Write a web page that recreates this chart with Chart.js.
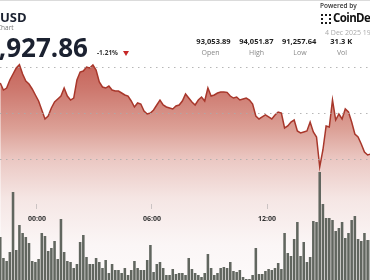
<!DOCTYPE html>
<html>
<head>
<meta charset="utf-8">
<script src="https://cdn.jsdelivr.net/npm/chart.js@4.4.1/dist/chart.umd.min.js"></script>
<style>
  html, body { margin: 0; padding: 0; background: #fff; }
  #wrap { position: relative; width: 370px; height: 280px; overflow: hidden; font-family: "Open Sans", sans-serif; }
  #wrap canvas { position: absolute; left: 0; top: 0; }
  .t { position: absolute; white-space: nowrap; line-height: 1; }
  .c { transform: translateX(-50%); }
  .val { top: 37.6px; font-size: 7.5px; font-weight: 700; color: #222; }
  .lbl { top: 49.3px; font-size: 7px; color: #888; }
</style>
</head>
<body>
<div id="wrap">
  <canvas id="btcChart" width="370" height="280"></canvas>

  <div class="t" style="left:0;top:10.5px;font-size:13px;font-weight:700;color:#1b2130">USD</div>
  <div class="t" style="left:-3px;top:25px;font-size:6.5px;color:#777">Chart</div>
  <div class="t" style="right:282px;top:33.6px;font-size:26px;font-weight:700;color:#1b2130">91,927.86</div>
  <div class="t" style="left:97px;top:50.2px;font-size:6.5px;font-weight:700;color:#333">-1.21%</div>
  <div style="position:absolute;left:122.5px;top:51px;width:0;height:0;border-left:3px solid transparent;border-right:3px solid transparent;border-top:5px solid #c62828"></div>

  <div class="t" style="left:320px;top:2.7px;font-size:6.5px;font-weight:600;color:#333">Powered by</div>
  <div style="position:absolute;left:321px;top:14px;width:6px;height:6px;border:2px dotted #1b1b1b"></div>
  <div class="t" style="left:333px;top:12px;font-size:11.5px;font-weight:700;color:#111;letter-spacing:-0.6px">CoinDesk</div>
  <div class="t" style="left:325px;top:28.8px;font-size:7px;color:#aaa">4 Dec 2025 19:25 UTC</div>

  <div class="t c val" style="left:213.5px">93,053.89</div>
  <div class="t c val" style="left:256.3px">94,051.87</div>
  <div class="t c val" style="left:299.2px">91,257.64</div>
  <div class="t c val" style="left:341.3px">31.3 K</div>
  <div class="t c lbl" style="left:210.5px">Open</div>
  <div class="t c lbl" style="left:256.5px">High</div>
  <div class="t c lbl" style="left:300px">Low</div>
  <div class="t c lbl" style="left:342px">Vol</div>
</div>

<script>
// 10 minute candles, minutes counted from 00:00
const START_MINUTE = -115;
const STEP_MINUTES = 10;

const prices = [
  93656, 93505, 93548, 93720, 93849, 93978, 94050, 93849, 93699, 93634,
  93527, 93398, 93269, 93075, 92882, 92946, 93118, 93247, 93312, 93376,
  93548, 93376, 93290, 93333, 93720, 93892, 93914, 94000, 93978, 94043,
  93935, 93677, 93570, 93548, 93591, 93505, 93484, 93484, 93441, 93398,
  93376, 93269, 93140, 93226, 93204, 93054, 92989, 93011, 93075, 93183,
  93290, 93183, 93140, 93118, 93097, 93161, 93183, 93269, 93419, 93333,
  93247, 93183, 93290, 93355, 93269, 93548, 93376, 93398, 93441, 93462,
  93462, 93455, 93376, 93333, 93355, 93290, 93312, 93333, 93290, 93204,
  92946, 92882, 92925, 92968, 92925, 92882, 92968, 93032, 93011, 92688,
  92731, 92817, 92860, 92624, 92581, 92602, 92624, 92817, 92602, 92495,
  91850, 92215, 92731, 92710, 93290, 92860, 92989, 92882, 93097, 93032,
  92817, 92559, 92495, 92344, 92172, 92108, 92129
];

const volumes = [
  215, 110, 95, 140, 440, 150, 275, 235, 215, 185,
  95, 90, 105, 235, 220, 145, 160, 195, 105, 305,
  140, 95, 90, 60, 80, 190, 225, 115, 80, 80,
  110, 90, 60, 100, 35, 80, 50, 50, 35, 60,
  25, 50, 95, 60, 50, 50, 100, 175, 40, 80,
  90, 60, 25, 25, 55, 30, 35, 35, 25,
  110, 55, 35, 25, 15, 35, 130, 60, 25, 35,
  60, 65, 60, 90, 45, 40, 50, 15, 5, 5,
  25, 160, 30, 30, 45, 55, 50, 60, 85, 55,
  235, 135, 120, 205, 290, 120, 190, 90, 115, 295,
  290, 540, 380, 310, 310, 300, 245, 260, 290, 210,
  235, 300, 320, 205, 195, 235, 200, 200
];

const tickMinutes = [0, 360, 720];
const tickLabels = ["00:00", "06:00", "12:00"];
const gridPrices = [92000, 93000, 94000];

const minutes = prices.map((p, i) => START_MINUTE + i * STEP_MINUTES);

function fillGradient(ctx) {
  const g = ctx.chart.ctx.createLinearGradient(0, 0, 0, 280);
  g.addColorStop(0.23, "rgb(198,100,90)");
  g.addColorStop(0.32, "rgb(205,120,110)");
  g.addColorStop(0.46, "rgb(220,160,150)");
  g.addColorStop(0.57, "rgb(235,200,195)");
  g.addColorStop(0.71, "rgb(245,230,228)");
  g.addColorStop(0.875, "rgb(251,246,246)");
  g.addColorStop(1, "rgb(253,250,250)");
  return g;
}

const dots = "rgba(170,170,170,0.85)";

new Chart(document.getElementById("btcChart"), {
  type: "line",
  data: {
    datasets: [
      {
        type: "bar",
        data: minutes.map((m, i) => ({ x: m, y: volumes[i] })),
        yAxisID: "vol",
        backgroundColor: "#61665f",
        borderWidth: 0,
        barPercentage: 0.8,
        categoryPercentage: 1
      },
      {
        type: "line",
        data: minutes.map((m, i) => ({ x: m, y: prices[i] })),
        yAxisID: "y",
        borderColor: "#a8372b",
        borderWidth: 1.5,
        pointRadius: 0,
        tension: 0,
        fill: "start",
        backgroundColor: fillGradient
      }
    ]
  },
  options: {
    responsive: false,
    animation: false,
    devicePixelRatio: 1,
    layout: { padding: 0 },
    plugins: { legend: { display: false }, tooltip: { enabled: false } },
    scales: {
      x: {
        type: "linear",
        min: -115.8,
        max: 1042.4,
        offset: false,
        position: { y: 91075 },
        afterBuildTicks: s => { s.ticks = tickMinutes.map(v => ({ value: v })); },
        ticks: {
          z: 2,
          autoSkip: false,
          maxRotation: 0,
          padding: 7,
          color: "#333",
          font: { family: "Open Sans", size: 7, weight: "bold" },
          callback: v => tickLabels[tickMinutes.indexOf(v)]
        },
        grid: { z: 2, offset: false, drawOnChartArea: false, tickLength: 5, tickColor: "rgba(150,150,150,0.45)" },
        border: { z: 1, display: true, color: dots, dash: [1.5, 4.5] }
      },
      y: {
        min: 89419,
        max: 95441,
        afterBuildTicks: s => { s.ticks = gridPrices.map(v => ({ value: v })); },
        ticks: { display: false },
        grid: { z: 1, color: dots, drawTicks: false, lineWidth: 1 },
        border: { display: false, dash: [1.5, 4.5] }
      },
      vol: { min: 0, max: 1400, display: false }
    }
  }
});
</script>
</body>
</html>
